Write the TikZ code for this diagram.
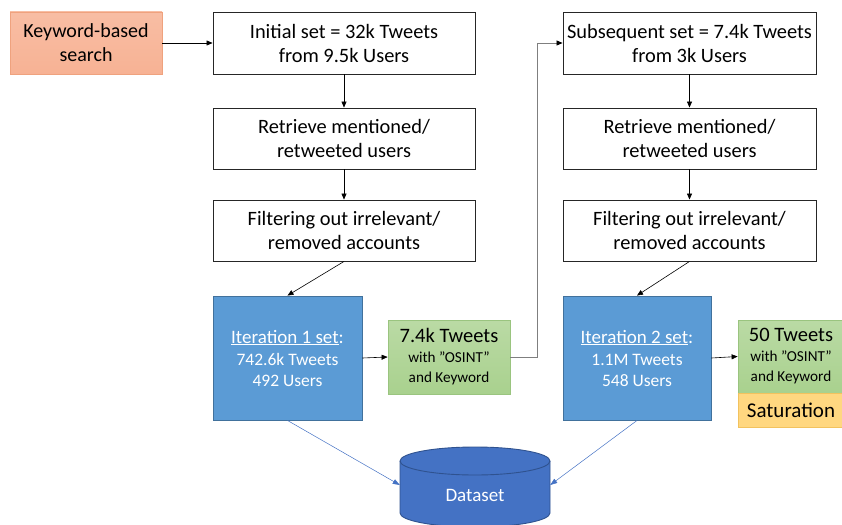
\documentclass[tikz,border=0pt]{standalone}
\usepackage{fontspec}
\setmainfont{Carlito}
\usetikzlibrary{arrows.meta}
\definecolor{salmonfill}{HTML}{F7B294}
\definecolor{salmonline}{HTML}{EFA27E}
\definecolor{iterfill}{HTML}{5B9BD5}
\definecolor{iterline}{HTML}{41719C}
\definecolor{greenfill}{HTML}{A9D18E}
\definecolor{greenline}{HTML}{9AC47F}
\definecolor{satfill}{HTML}{FFD780}
\definecolor{satline}{HTML}{F2C25E}
\definecolor{dbfill}{HTML}{4472C4}
\definecolor{dbline}{HTML}{2F528F}
\definecolor{linkgray}{HTML}{7F7F7F}
\begin{document}
\begin{tikzpicture}[x=1pt, y=-1pt,
    stepbox/.style={draw=black!85, line width=0.9pt, fill=white, minimum width=262pt,
        minimum height=62pt, align=center, font=\fontsize{20.4}{24}\selectfont, inner sep=0pt},
    searchbox/.style={draw=salmonline, line width=0.8pt, top color=salmonfill!85!white,
        bottom color=salmonfill, minimum width=152pt, minimum height=62pt, align=center,
        font=\fontsize{20}{24}\selectfont, inner sep=0pt},
    iterbox/.style={draw=iterline, line width=0.9pt, fill=iterfill, text=white,
        minimum width=149pt, minimum height=124pt, align=center, inner sep=0pt,
        font=\fontsize{17.5}{21}\selectfont},
    tweetbox/.style={draw=greenline, line width=0.8pt, top color=greenfill!80!white,
        bottom color=greenfill, align=center, inner sep=0pt,
        font=\fontsize{15.2}{20}\selectfont},
    satbox/.style={draw=satline, line width=0.8pt, fill=satfill, inner sep=0pt,
        font=\fontsize{21}{24}\selectfont},
    flow/.style={-{Triangle[length=6pt,width=5pt]}, line width=0.6pt, black},
    link/.style={-{Triangle[length=6pt,width=5pt,black]}, line width=0.8pt, linkgray},
    store/.style={-{Triangle[length=7pt,width=5pt]}, line width=0.5pt, dbfill}]

    % --- page ---
    \useasboundingbox (0,0) rectangle (842,524);

    % --- first iteration ---
    \node[searchbox] (search) at (86,43) {Keyword-based\\search};
    \node[stepbox] (init) at (344,43) {Initial set = 32k Tweets\\from 9.5k Users};
    \node[stepbox, minimum height=61pt] (retr1) at (344,138.5) {Retrieve mentioned/\\retweeted users};
    \node[stepbox, minimum height=61pt] (filt1) at (344,230.5) {Filtering out irrelevant/\\removed accounts};
    \node[iterbox] (iter1) at (287.5,358)
        {{\fontsize{19}{23}\selectfont\underline{Iteration 1 set}:}\\[1pt] 742.6k Tweets\\492 Users};
    \node[tweetbox, minimum width=122pt, minimum height=74pt] (tw1) at (449,357)
        {{\fontsize{20.5}{24}\selectfont 7.4k Tweets}\\with ”OSINT”\\and Keyword};

    % --- second iteration ---
    \node[stepbox, minimum width=253pt] (subs) at (689.5,43) {Subsequent set = 7.4k Tweets\\from 3k Users};
    \node[stepbox, minimum width=253pt, minimum height=61pt] (retr2) at (689.5,138.5) {Retrieve mentioned/\\retweeted users};
    \node[stepbox, minimum width=253pt, minimum height=61pt] (filt2) at (689.5,230.5) {Filtering out irrelevant/\\removed accounts};
    \node[iterbox, minimum width=148pt] (iter2) at (637,358)
        {{\fontsize{19}{23}\selectfont\underline{Iteration 2 set}:}\\[1pt] 1.1M Tweets\\548 Users};
    \node[tweetbox, minimum width=106pt, minimum height=73pt] (tw2) at (791,356.5)
        {{\fontsize{20.5}{24}\selectfont 50 Tweets}\\with ”OSINT”\\and Keyword};
    \node[satbox, minimum width=106pt, minimum height=34pt, anchor=north] (sat) at (tw2.south) {Saturation};

    % --- dataset cylinder ---
    \def\dbL{400} \def\dbR{550} \def\dbTop{461} \def\dbBot{513}
    \filldraw[fill=dbfill, draw=dbline, line width=0.9pt]
        (\dbL,\dbTop) -- (\dbL,\dbBot) arc[start angle=180, end angle=360, x radius=75, y radius=-14]
        -- (\dbR,\dbTop) arc[start angle=0, end angle=180, x radius=75, y radius=-14] -- cycle;
    \draw[dbline, line width=0.9pt] (\dbL,\dbTop) arc[start angle=180, end angle=360, x radius=75, y radius=-14];
    \node[text=white, font=\fontsize{19}{22}\selectfont, minimum width=150pt, minimum height=48pt,
        inner sep=0pt] (dataset) at (475,495) {Dataset};

    % --- connectors ---
    \draw[flow] (search.east) -- (init.west);
    \draw[flow] (init) -- (retr1);
    \draw[flow] (retr1) -- (filt1);
    \draw[flow] (filt1.south) -- (iter1.north);
    \draw[flow] (iter1.east) -- (tw1.west);
    \draw[link] (tw1.east) -- (537,357) |- (subs.west);
    \draw[flow] (subs) -- (retr2);
    \draw[flow] (retr2) -- (filt2);
    \draw[flow] (filt2.south) -- (iter2.north);
    \draw[flow] (iter2.east) -- (tw2.west);
    \draw[store] (iter1.south) -- ([yshift=10pt]dataset.west);
    \draw[store] (iter2.south) -- ([yshift=10pt]dataset.east);
\end{tikzpicture}
\end{document}
